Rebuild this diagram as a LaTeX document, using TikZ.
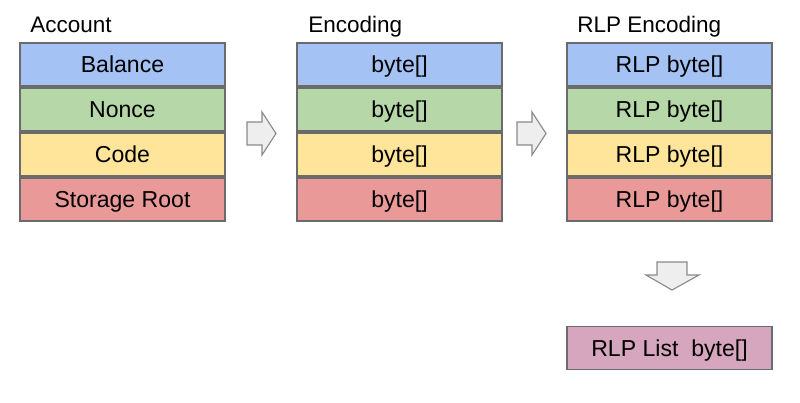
\documentclass[tikz,border=0pt]{standalone}
\usepackage{fontspec}
\setmainfont{Liberation Sans}
\definecolor{balblue}{HTML}{A4C2F4}
\definecolor{noncegreen}{HTML}{B6D7A8}
\definecolor{codeyellow}{HTML}{FFE599}
\definecolor{storered}{HTML}{EA9999}
\definecolor{listpink}{HTML}{D5A6BD}
\definecolor{cellgray}{HTML}{6B6B6B}
\definecolor{arrowgray}{HTML}{8A8A8A}
\definecolor{arrowfill}{HTML}{EEEEEE}
\begin{document}
\begin{tikzpicture}[x=0.025cm,y=-0.025cm,
  cell/.style={draw=cellgray,line width=0.8pt,minimum width=5.125cm,minimum height=1.075cm,
    inner sep=0pt,text height=11.8pt,text depth=0pt,font=\fontsize{16.4}{19}\selectfont},
  title/.style={anchor=base west,inner sep=0pt,font=\fontsize{16}{19}\selectfont},
  blockarrow/.style={draw=arrowgray,fill=arrowfill,line width=0.8pt,line join=miter}]
\useasboundingbox (0,0) rectangle (800,402);
\node[title] (acctitle) at (30,32) {Account};
\node[title] (enctitle) at (308,32) {Encoding};
\node[title] (rlptitle) at (577,32) {RLP Encoding};
\foreach \Row/\Y/\Fill/\Label in {1/64.5/balblue/Balance,2/109.5/noncegreen/Nonce,3/154.5/codeyellow/Code,4/199.5/storered/Storage Root}{
    \node[cell,fill=\Fill] (acc\Row) at (122.5,\Y) {\Label};
    \node[cell,fill=\Fill] (enc\Row) at (399.5,\Y) {byte[]};
    \node[cell,fill=\Fill] (rlp\Row) at (669.5,\Y) {RLP byte[]};
}
\node[cell,fill=listpink] (list) at (669.5,348) {RLP List\ \ byte[]};
% block arrows between the columns
\draw[blockarrow] (247,122)--(262,122)--(262,112)--(276,133.5)--(262,155)--(262,145)--(247,145)--cycle;
\draw[blockarrow] (517,122)--(532,122)--(532,112)--(546,133.5)--(532,155)--(532,145)--(517,145)--cycle;
\draw[blockarrow] (657,262)--(687,262)--(687,275)--(699,275)--(672,290)--(646,275)--(657,275)--cycle;
\end{tikzpicture}
\end{document}
